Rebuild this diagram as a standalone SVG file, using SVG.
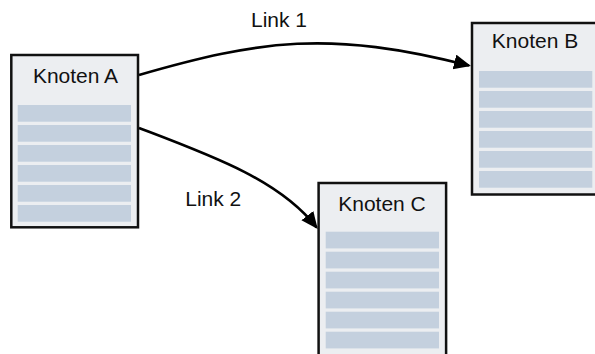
<svg xmlns="http://www.w3.org/2000/svg" width="595" height="354" viewBox="0 0 595 354">
  <style>
    .box { fill: #eceef1; stroke: #111; stroke-width: 2.5; }
    .row { fill: #c4d0de; }
    .title { font-family: "Liberation Sans", Arial, sans-serif; font-size: 21px; fill: #111; text-anchor: middle; }
    .label { font-family: "Liberation Sans", Arial, sans-serif; font-size: 21px; fill: #111; text-anchor: middle; }
    .link { fill: none; stroke: #000; stroke-width: 2.6; }
  </style>
  <defs>
    <marker id="arrow" markerUnits="userSpaceOnUse" markerWidth="20" markerHeight="18" refX="15" refY="7.5" orient="auto">
      <path d="M0,0 L17,7.5 L0,15 z" fill="#000"/>
    </marker>
    <g id="rows">
      <rect class="row" x="0" y="0" width="113.3" height="16.7"/>
      <rect class="row" x="0" y="20" width="113.3" height="16.7"/>
      <rect class="row" x="0" y="40" width="113.3" height="16.7"/>
      <rect class="row" x="0" y="60" width="113.3" height="16.7"/>
      <rect class="row" x="0" y="80" width="113.3" height="16.7"/>
      <rect class="row" x="0" y="100" width="113.3" height="16.7"/>
    </g>
  </defs>

  <rect width="595" height="354" fill="#fff"/>

  <g id="node-a">
    <rect class="box" x="11.3" y="55" width="126.7" height="172.3"/>
    <text class="title" x="75.5" y="82.7">Knoten A</text>
    <use href="#rows" x="17.7" y="105"/>
  </g>

  <g id="node-b">
    <rect class="box" x="472" y="23" width="126.7" height="171.5"/>
    <text class="title" x="535" y="48.3">Knoten B</text>
    <use href="#rows" x="479" y="71"/>
  </g>

  <g id="node-c">
    <rect class="box" x="318.6" y="183" width="127.5" height="190"/>
    <text class="title" x="382" y="210.7">Knoten C</text>
    <use href="#rows" x="325.7" y="231.7"/>
  </g>

  <g id="connectors">
    <path class="link" d="M139,75 C260,40 330,30 469,65.6" marker-end="url(#arrow)"/>
    <path class="link" d="M139,128 C210,155 280,180 316.5,227.5" marker-end="url(#arrow)"/>
    <text class="label" x="279" y="27.3">Link 1</text>
    <text class="label" x="213.3" y="206">Link 2</text>
  </g>
</svg>
